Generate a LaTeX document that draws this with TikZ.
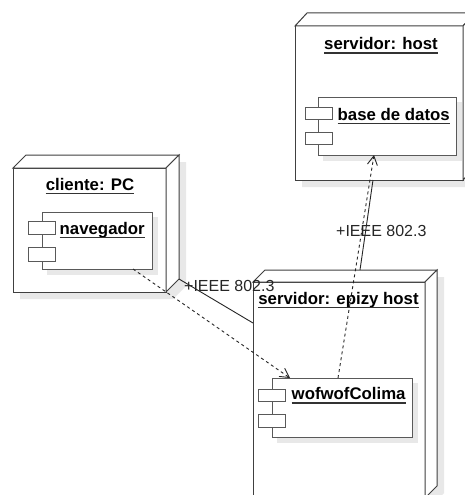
\documentclass[tikz,border=0pt]{standalone}
\usepackage{fontspec}
\setmainfont{Liberation Sans}
\usetikzlibrary{arrows.meta}
\begin{document}
\begin{tikzpicture}[x=1pt,y=-1pt,
  edge/.style={draw=black!75, line width=1pt, fill=white},
  shadowc/.style={fill=black!9, draw=none},
  comp/.style={draw=black!65, line width=1pt, fill=white},
  nodelbl/.style={inner sep=0, font=\fontsize{16.8}{20}\selectfont\bfseries, anchor=base},
  complbl/.style={inner sep=0, font=\fontsize{16.8}{20}\selectfont\bfseries, anchor=base west},
  uline/.style={draw=black!80, line width=1.3pt},
  conn/.style={draw=black!85, line width=0.9pt},
  dep/.style={conn, dash pattern=on 3pt off 3pt, -{Straight Barb[length=9pt,width=10pt]}},
  assoclbl/.style={inner sep=0, font=\fontsize{16}{19}\selectfont, anchor=base west, text=black!85}
]
\useasboundingbox (0,0) rectangle (465,495);
\clip (0,0) rectangle (465,495);
\fill[white] (0,0) rectangle (465,495);

% ---------- cliente: PC ----------
\fill[shadowc, shift={(7,7)}] (13,168) -- (26,155) -- (179,155) -- (179,279) -- (166,292) -- (13,292) -- cycle;
\draw[edge] (13,168) rectangle (166,292);
\draw[edge] (13,168) -- (26,155) -- (179,155) -- (166,168) -- cycle;
\draw[edge] (166,168) -- (179,155) -- (179,279) -- (166,292) -- cycle;
\coordinate (pcBR) at (179,279);
\node[nodelbl] (pcLbl) at (90,190.5) {cliente: PC};
\draw[uline] ([yshift=-3pt]pcLbl.base west) -- ([yshift=-3pt]pcLbl.base east);

% navegador component
\fill[shadowc] (47,217) rectangle (158,275);
\draw[comp] (42,212) rectangle (152,269);
\draw[comp] (28,221) rectangle (55,234);
\draw[comp] (28,247) rectangle (55,261);
\coordinate (navBot) at (133,269);
\node[complbl] (navLbl) at (59.5,234) {navegador};
\draw[uline] ([yshift=-3.5pt]navLbl.base west) -- ([yshift=-3.5pt]navLbl.base east);

% ---------- servidor: host ----------
\fill[shadowc, shift={(7,7)}] (295,26) -- (307,13) -- (475,13) -- (475,167) -- (463,180) -- (295,180) -- cycle;
\draw[edge] (295,26) rectangle (463,180);
\draw[edge] (295,26) -- (307,13) -- (475,13) -- (463,26) -- cycle;
\draw[edge] (463,26) -- (475,13) -- (475,167) -- (463,180) -- cycle;
\coordinate (hostBot) at (373,180);
\node[nodelbl] (hostLbl) at (381,50) {servidor: host};
\draw[uline] ([yshift=-3pt]hostLbl.base west) -- ([yshift=-3pt]hostLbl.base east);

% base de datos component
\fill[shadowc] (323,102) rectangle (462,161);
\draw[comp] (318,97) rectangle (456,155);
\draw[comp] (305,107) rectangle (332,119);
\draw[comp] (305,132) rectangle (332,144);
\coordinate (dbBot) at (374,155);
\node[complbl] (dbLbl) at (337.5,120) {base de datos};
\draw[uline] ([yshift=-3.5pt]dbLbl.base west) -- ([yshift=-3.5pt]dbLbl.base east);

% ---------- servidor: epizy host ----------
\fill[shadowc, shift={(7,7)}] (253,282) -- (265,270) -- (437,270) -- (437,486) -- (425,498) -- (253,498) -- cycle;
\draw[edge] (253,282) rectangle (425,498);
\draw[edge] (253,282) -- (265,270) -- (437,270) -- (425,282) -- cycle;
\draw[edge] (425,282) -- (437,270) -- (437,486) -- (425,498) -- cycle;
\coordinate (epLeft) at (253,323);
\coordinate (epTop) at (360,270);
\node[nodelbl] (epLbl) at (338.5,304) {servidor: epizy host};
\draw[uline] ([yshift=-3.5pt]epLbl.base west) -- ([yshift=-3.5pt]epLbl.base east);

% wofwofColima component
\fill[shadowc] (277,383) rectangle (418,443);
\draw[comp] (272,378) rectangle (412,437);
\draw[comp] (258,389) rectangle (285,401);
\draw[comp] (258,414) rectangle (285,427);
\coordinate (wofTopA) at (290,378);
\coordinate (wofTopB) at (338,378);
\node[complbl] (wofLbl) at (291.5,399.5) {wofwofColima};
\draw[uline] ([yshift=-3.5pt]wofLbl.base west) -- ([yshift=-3.5pt]wofLbl.base east);

% ---------- connectors ----------
\draw[conn] (pcBR) -- (epLeft);
\draw[conn] (epTop) -- (hostBot);
\draw[dep] (navBot) -- (wofTopA);
\draw[dep] (wofTopB) -- (dbBot);

\node[assoclbl] (lbl1) at (184,291) {+IEEE 802.3};
\node[assoclbl] (lbl2) at (336,236) {+IEEE 802.3};
\end{tikzpicture}
\end{document}
